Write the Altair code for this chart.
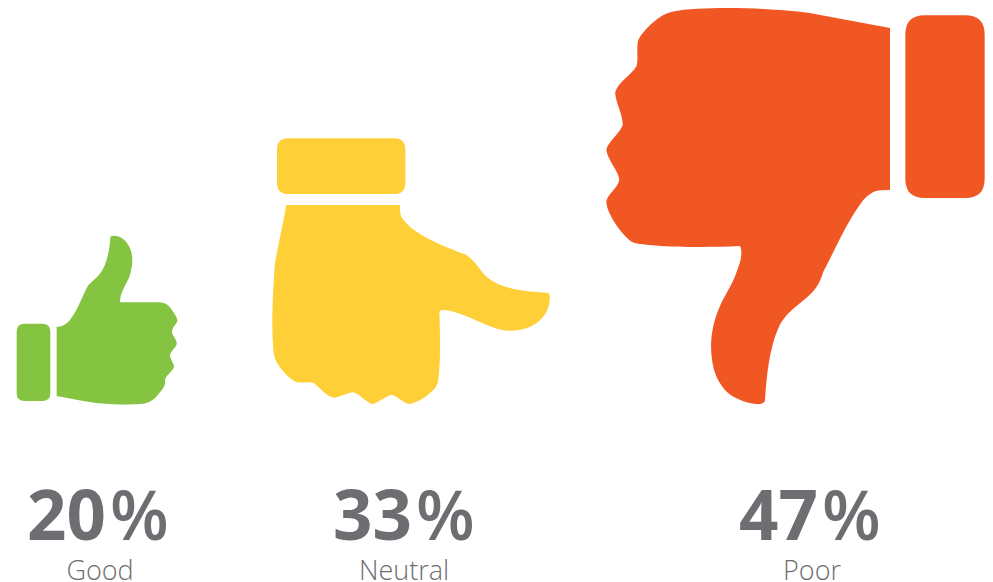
import re
import altair as alt
import pandas as pd

labels = ["Good", "Neutral", "Poor"]
values = [20, 33, 47]
colors = ["#84c441", "#ffcf37", "#f15723"]
percent_centres = [97, 403, 809]
name_centres = [100, 404, 812]


def rounded_box(x0, y0, x1, y1, r):
    return (
        f"M{x0 + r},{y0} L{x1 - r},{y0} Q{x1},{y0} {x1},{y0 + r} "
        f"L{x1},{y1 - r} Q{x1},{y1} {x1 - r},{y1} L{x0 + r},{y1} "
        f"Q{x0},{y1} {x0},{y1 - r} L{x0},{y0 + r} Q{x0},{y0} {x0 + r},{y0} Z "
    )


# Hand outlines, drawn at 3 units per pixel around each glyph's own corner.
UP_HAND = rounded_box(50, 296, 151, 528, 24) + (
    "M170,305 C190,306 205,295 220,270 C235,248 248,212 262,185 C272,170 295,160 310,130 "
    "C325,100 330,60 331,35 C345,28 370,35 385,60 C400,85 400,115 390,150 C380,178 360,200 360,232 "
    "L470,232 C495,232 505,238 518,258 C525,268 533,280 532,288 C528,300 514,310 516,322 "
    "C518,335 532,345 530,358 C525,372 510,380 510,392 C512,405 522,415 522,425 "
    "C518,440 497,450 495,465 C497,480 490,490 480,502 C465,520 455,535 420,537 "
    "C370,540 300,538 250,528 L170,513 Z"
)
SIDE_HAND = rounded_box(36, 25, 421, 192, 34) + (
    "M64,225 L405,225 C405,250 405,260 420,275 C460,320 540,350 600,373 C630,388 645,425 670,445 "
    "C710,478 790,486 848,488 C856,490 856,505 852,525 C840,570 800,600 740,602 "
    "C670,604 600,540 528,540 L523,545 C526,620 527,710 518,760 C510,785 460,820 432,822 "
    "C415,820 395,795 378,795 C360,800 335,822 320,822 C300,815 280,787 262,787 "
    "C245,790 220,803 205,803 C180,798 160,765 140,757 C120,755 105,760 92,755 "
    "C70,745 35,705 28,680 C18,620 22,500 30,400 C40,340 55,280 64,225 Z"
)
DOWN_HAND = rounded_box(931, 46, 1169, 594, 58) + (
    "M885,84 L640,38 C560,28 440,22 350,25 C290,26 235,30 205,45 C175,62 130,105 128,130 "
    "C125,150 130,175 125,197 C110,225 70,245 61,275 C58,300 85,345 83,375 C75,400 35,430 34,450 "
    "C38,480 72,515 73,540 C68,565 35,585 34,605 C35,640 80,705 110,725 C130,738 300,745 435,738 "
    "C445,760 435,790 425,815 C410,860 385,890 370,930 C350,980 345,1030 350,1070 "
    "C355,1120 370,1150 400,1180 C425,1200 470,1215 495,1212 C505,1210 510,1205 510,1200 "
    "C515,1120 525,1040 550,985 C575,925 635,905 665,860 C675,845 680,830 685,815 "
    "C720,750 755,665 805,600 C825,580 840,571 860,571 L885,570 Z"
)


def to_symbol(outline, dx, dy, value):
    """Re-centre an outline on its anchor and express it in units of its value."""

    def convert(match):
        x = (float(match.group(1)) / 3 + dx) / value
        y = (float(match.group(2)) / 3 + dy) / value
        return f"{x:.4f},{y:.4f}"

    return re.sub(r"(-?[\d.]+),(-?[\d.]+)", convert, outline)


# Anchors sit under each percentage, on the common baseline of the hands.
symbols = [
    to_symbol(UP_HAND, 0 - 97, 225 - 403, 20),
    to_symbol(SIDE_HAND, 265 - 403, 130 - 403, 33),
    to_symbol(DOWN_HAND, 595 - 809, 0 - 403, 47),
]

data = pd.DataFrame({"label": labels, "value": values})

x = alt.X(
    "value:Q",
    axis=None,
    scale=alt.Scale(domain=values, range=percent_centres),
)
name_x = alt.X(
    "value:Q",
    axis=None,
    scale=alt.Scale(domain=values, range=name_centres),
)

# Symbol side grows linearly with the value, so area follows its square.
hands = (
    alt.Chart(data)
    .mark_point(filled=True, opacity=1, strokeWidth=0)
    .encode(
        x=x,
        y=alt.value(403),
        shape=alt.Shape(
            "label:N",
            legend=None,
            scale=alt.Scale(domain=labels, range=symbols),
        ),
        color=alt.Color(
            "label:N",
            legend=None,
            scale=alt.Scale(domain=labels, range=colors),
        ),
        size=alt.Size(
            "value:Q",
            legend=None,
            scale=alt.Scale(type="pow", exponent=2, domain=[0, 47], range=[0, 8836]),
        ),
    )
)

# Digits and the percent sign are separate so the gap between them can be opened up.
digits = (
    alt.Chart(data)
    .mark_text(
        font="Open Sans",
        fontWeight="bold",
        fontSize=69,
        color="#6d6e71",
        align="right",
        baseline="alphabetic",
        dx=9,
    )
    .encode(x=x, y=alt.value(540), text="value:Q")
)

signs = (
    alt.Chart(data)
    .transform_calculate(sign="'%'")
    .mark_text(
        font="Open Sans",
        fontWeight=600,
        fontSize=68,
        color="#6d6e71",
        align="left",
        baseline="alphabetic",
        dx=13,
    )
    .encode(x=x, y=alt.value(540), text="sign:N")
)

names = (
    alt.Chart(data)
    .mark_text(
        font="Open Sans",
        fontWeight=300,
        fontSize=27,
        color="#6d6e71",
        align="center",
        baseline="alphabetic",
    )
    .encode(x=name_x, y=alt.value(580), text="label:N")
)

chart = (
    alt.layer(hands, digits, signs, names)
    .resolve_scale(color="independent", shape="independent", x="independent")
    .properties(
        width=993,
        height=582,
        padding=0,
        autosize=alt.AutoSizeParams(type="none"),
        background="white",
    )
    .configure_view(stroke=None)
)

chart.save("out.html", embed_options={"renderer": "svg", "actions": False})
